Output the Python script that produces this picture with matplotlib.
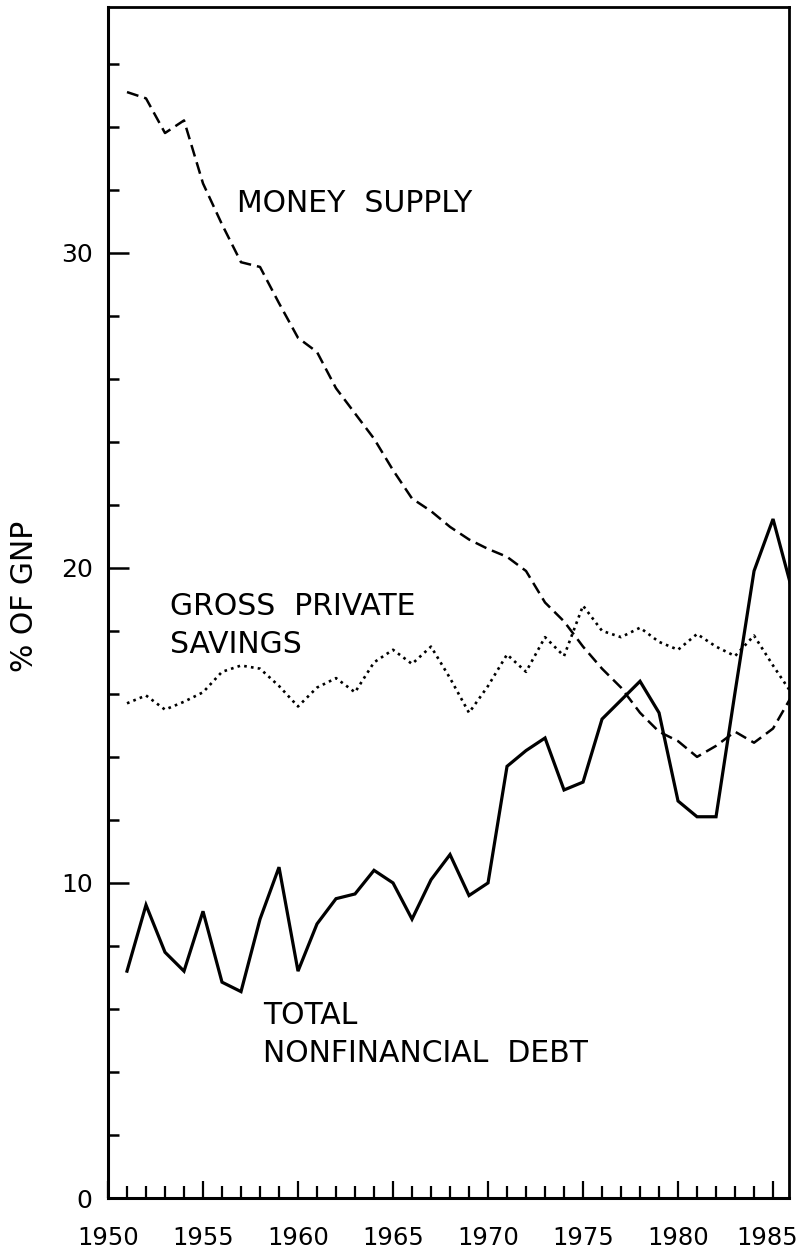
import matplotlib.pyplot as plt
from matplotlib.ticker import MultipleLocator, FixedLocator
from matplotlib.transforms import ScaledTranslation
import numpy as np

# data (% of GNP)
years = list(range(1951, 1987))
money_supply = [35.1, 34.9, 33.8, 34.2, 32.2, 30.9, 29.7, 29.55, 28.4, 27.3,
                26.85, 25.7, 24.9, 24.1, 23.1, 22.2, 21.8, 21.3, 20.9, 20.6,
                20.35, 19.9, 18.9, 18.3, 17.5, 16.8, 16.2, 15.4, 14.8, 14.5,
                14.0, 14.35, 14.8, 14.45, 14.9, 15.95]
private_savings = [15.7, 15.95, 15.5, 15.75, 16.05, 16.7, 16.9, 16.8, 16.25, 15.6,
                   16.2, 16.5, 16.05, 17.0, 17.4, 16.95, 17.5, 16.5, 15.4, 16.25,
                   17.25, 16.7, 17.8, 17.2, 18.8, 18.0, 17.8, 18.1, 17.65, 17.4,
                   17.9, 17.5, 17.2, 17.85, 16.9, 16.0]
nonfin_debt = [7.2, 9.3, 7.8, 7.2, 9.1, 6.85, 6.55, 8.85, 10.5, 7.2,
               8.7, 9.5, 9.65, 10.4, 10.0, 8.85, 10.1, 10.9, 9.6, 10.0,
               13.7, 14.2, 14.6, 12.95, 13.2, 15.2, 15.8, 16.4, 15.4, 12.6,
               12.1, 12.1, 16.05, 19.9, 21.55, 19.3]

year_labels = ['1950', '1955', '1960', '1965', '1970', '1975', '1980', '1985']
value_labels = ['0', '10', '20', '30']

plt.rcParams['font.family'] = 'DejaVu Sans'

fig = plt.figure(figsize=(8.02, 12.5), dpi=100)
ax = fig.add_axes([108 / 802, 52 / 1250, 681 / 802, 1191 / 1250])

ax.plot(years, money_supply, color='black', lw=1.8, linestyle=(0, (4.8, 2.4)))
ax.plot(years, private_savings, color='black', lw=1.9, linestyle=(0, (1, 1.6)))
ax.plot(years, nonfin_debt, color='black', lw=2.3, solid_joinstyle='miter')

ax.set_xlim(1950, 1985.84)
ax.set_ylim(0, 37.8)

# ticks point inward, long majors and short minors
ax.xaxis.set_major_locator(FixedLocator([int(y) for y in year_labels]))
ax.set_xticklabels(year_labels)
ax.xaxis.set_minor_locator(MultipleLocator(1))
ax.yaxis.set_major_locator(FixedLocator([int(v) for v in value_labels]))
ax.set_yticklabels(value_labels)
ax.yaxis.set_minor_locator(MultipleLocator(2))

ax.tick_params(axis='x', which='major', direction='in', length=12, width=1.6,
               pad=20, labelsize=17.5, top=False)
ax.tick_params(axis='x', which='minor', direction='in', length=8.5, width=1.6, top=False)
ax.tick_params(axis='y', which='major', direction='in', length=15, width=1.8,
               pad=11, labelsize=18, right=False)
ax.tick_params(axis='y', which='minor', direction='in', length=8, width=1.8, right=False)

# keep the last year label inside the figure
last = ax.get_xticklabels()[-1]
last.set_transform(last.get_transform() + ScaledTranslation(-6 / 100, 0, fig.dpi_scale_trans))

for side, w in [('left', 2.2), ('bottom', 2.2), ('top', 2.0), ('right', 2.0)]:
    ax.spines[side].set_linewidth(w)

# series labels
ax.text(1956.79, 31.56, 'MONEY  SUPPLY', fontsize=21.5, ha='left', va='center')
ax.text(1953.26, 19.24, 'GROSS  PRIVATE\nSAVINGS', fontsize=21.5, ha='left', va='top',
        linespacing=1.4)
ax.text(1958.16, 6.25, 'TOTAL\nNONFINANCIAL  DEBT', fontsize=21.5, ha='left', va='top',
        linespacing=1.4)

fig.text(25 / 802, 1 - 596 / 1250, '% OF GNP', rotation=90, fontsize=21.5,
         ha='center', va='center')

fig.savefig('out.png', dpi=100)
